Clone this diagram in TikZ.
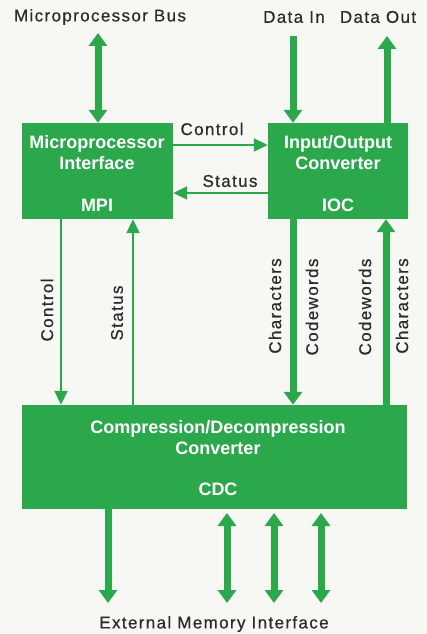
\documentclass[tikz,border=0pt]{standalone}
\usepackage{fontspec}
\setmainfont{Liberation Sans}
\usetikzlibrary{arrows.meta}
\definecolor{hpgreen}{HTML}{2CA84C}
\definecolor{bg}{HTML}{F7F7F4}
\definecolor{ink}{HTML}{2A2A2A}
\tikzset{
  box/.style={fill=hpgreen, draw=none, inner sep=0pt},
  boxtext/.style={text=white, font=\fontsize{18}{21}\selectfont\bfseries, align=center, inner sep=0pt},
  lbl/.style={text=ink, font=\fontsize{17}{20}\selectfont\addfontfeature{LetterSpace=8,FakeBold=0.5}, inner sep=0pt},
  vlbl/.style={lbl, rotate=90},
  fat/.style={draw=hpgreen, line width=7pt, -{Triangle[width=18pt,length=13pt]}},
  fatboth/.style={draw=hpgreen, line width=7pt, {Triangle[width=18pt,length=13pt]}-{Triangle[width=18pt,length=13pt]}},
  thin/.style={draw=hpgreen, line width=1.8pt, -{Triangle[width=13pt,length=14pt]}}
}
\begin{document}
\begin{tikzpicture}[x=1pt,y=-1pt]
\fill[bg] (0,0) rectangle (427,634);
\useasboundingbox (0,0) rectangle (427,634);

% boxes
\node[box, minimum width=151pt, minimum height=96pt] (mpi) at (97.5,171) {};
\node[box, minimum width=140pt, minimum height=96pt] (ioc) at (338,171) {};
\node[box, minimum width=385pt, minimum height=104pt] (cdc) at (214.5,457) {};

% box texts
\node[boxtext] (mpit) at (97,153) {Microprocessor\\Interface};
\node[boxtext] (mpia) at (97,205) {MPI};
\node[boxtext] (ioct) at (338,153) {Input/Output\\Converter};
\node[boxtext] (ioca) at (338,205) {IOC};
\node[boxtext] (cdct) at (218,438) {Compression/Decompression\\Converter};
\node[boxtext] (cdca) at (218,489) {CDC};

% top labels
\node[lbl] (busl) at (100,17) {Microprocessor Bus};
\node[lbl] (dinl) at (294,17) {Data In};
\node[lbl] (doutl) at (378,17) {Data Out};
\node[lbl] (extl) at (214,624) {External Memory Interface};

% free ends
\coordinate (busend) at (98,33);
\coordinate (dinend) at (293,36);
\coordinate (doutend) at (387,36);

\draw[fatboth] (busend) -- (mpi.north -| busend);
\draw[fat] (dinend) -- (ioc.north -| dinend);
\draw[fat] (ioc.north -| doutend) -- (doutend);

% horizontal control/status
\coordinate (cy) at (0,145);
\coordinate (sy) at (0,193);
\draw[thin] (mpi.east |- cy) -- (ioc.west |- cy);
\draw[thin] (ioc.west |- sy) -- (mpi.east |- sy);
\node[lbl] (ctl1) at (212,129) {Control};
\node[lbl] (st1) at (230,181) {Status};

% vertical thin
\coordinate (cx) at (61,0);
\coordinate (sx) at (133,0);
\draw[thin] (mpi.south -| cx) -- (cdc.north -| cx);
\draw[thin] (cdc.north -| sx) -- (mpi.south -| sx);
\node[vlbl] (ctl2) at (47,310) {Control};
\node[vlbl] (st2) at (117,313) {Status};

% vertical thick
\coordinate (dx) at (293,0);
\coordinate (ux) at (386,0);
\draw[fat] (ioc.south -| dx) -- (cdc.north -| dx);
\draw[fat] (cdc.north -| ux) -- (ioc.south -| ux);
\node[vlbl] (ch1) at (275,306) {Characters};
\node[vlbl] (cw1) at (312,307) {Codewords};
\node[vlbl] (cw2) at (365,307) {Codewords};
\node[vlbl] (ch2) at (402,306) {Characters};

% bottom arrows
\coordinate (b0) at (108,603);
\coordinate (b1t) at (227,513);
\coordinate (b1b) at (227,603);
\coordinate (b2t) at (274,513);
\coordinate (b2b) at (274,603);
\coordinate (b3t) at (321,513);
\coordinate (b3b) at (321,603);
\draw[fat] (cdc.south -| b0) -- (b0);
\draw[fatboth] (b1t) -- (b1b);
\draw[fatboth] (b2t) -- (b2b);
\draw[fatboth] (b3t) -- (b3b);
\end{tikzpicture}
\end{document}
